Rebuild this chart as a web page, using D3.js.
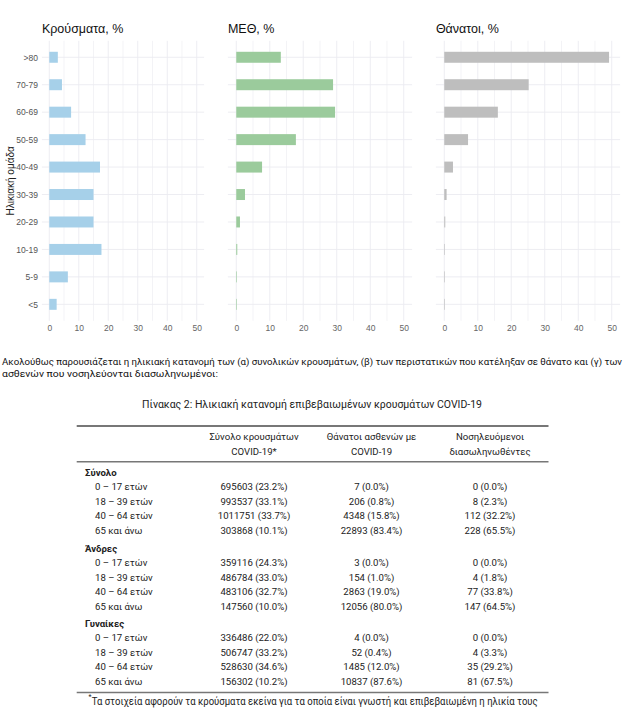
<!DOCTYPE html>
<html>
<head>
<meta charset="utf-8">
<script src="https://cdn.jsdelivr.net/npm/d3@7"></script>
<style>
  body { margin: 0; background: #fff; }
  svg { display: block; }
</style>
</head>
<body>
<script>
// chart data
const ageGroups = [">80", "70-79", "60-69", "50-59", "40-49", "30-39", "20-29", "10-19", "5-9", "<5"];
const casesPct = [2.9, 4.3, 7.4, 12.3, 17.2, 15.0, 15.0, 17.7, 6.3, 2.5];
const icuPct = [13.3, 28.9, 29.5, 17.8, 7.7, 2.6, 1.1, 0.3, 0.15, 0.15];
const deathsPct = [49.2, 25.2, 16.0, 7.1, 2.6, 0.7, 0.3, 0.15, 0.1, 0.1];
const xTicks = [0, 10, 20, 30, 40, 50];

// table data
const groupNames = ["Σύνολο", "Άνδρες", "Γυναίκες"];
const bandLabels = ["0 – 17 ετών", "18 – 39 ετών", "40 – 64 ετών", "65 και άνω"];
const tableCases = [
  [695603, 993537, 1011751, 303868],
  [359116, 486784, 483106, 147560],
  [336486, 506747, 528630, 156302]
];
const tableCasesPct = [
  ["23.2", "33.1", "33.7", "10.1"],
  ["24.3", "33.0", "32.7", "10.0"],
  ["22.0", "33.2", "34.6", "10.2"]
];
const tableDeaths = [
  [7, 206, 4348, 22893],
  [3, 154, 2863, 12056],
  [4, 52, 1485, 10837]
];
const tableDeathsPct = [
  ["0.0", "0.8", "15.8", "83.4"],
  ["0.0", "1.0", "19.0", "80.0"],
  ["0.0", "0.4", "12.0", "87.6"]
];
const tableIntub = [
  [0, 8, 112, 228],
  [0, 4, 77, 147],
  [0, 4, 35, 81]
];
const tableIntubPct = [
  ["0.0", "2.3", "32.2", "65.5"],
  ["0.0", "1.8", "33.8", "64.5"],
  ["0.0", "3.3", "29.2", "67.5"]
];
const headerLines = [
  ["Σύνολο κρουσμάτων", "COVID-19*"],
  ["Θάνατοι ασθενών με", "COVID-19"],
  ["Νοσηλευόμενοι", "διασωληνωθέντες"]
];
const introLines = [
  "Ακολούθως παρουσιάζεται η ηλικιακή κατανομή των (α) συνολικών κρουσμάτων, (β) των περιστατικών που κατέληξαν σε θάνατο και (γ) των",
  "ασθενών που νοσηλεύονται διασωληνωμένοι:"
];
const tableTitle = "Πίνακας 2: Ηλικιακή κατανομή επιβεβαιωμένων κρουσμάτων COVID-19";
const footnote = "Τα στοιχεία αφορούν τα κρούσματα εκείνα για τα οποία είναι γνωστή και επιβεβαιωμένη η ηλικία τους";

const width = 640, height = 712;
const chartFont = "'Liberation Sans', Arial, sans-serif";
const tableFont = "Roboto, 'Open Sans', sans-serif";

const svg = d3.select("body").append("svg")
  .attr("width", width)
  .attr("height", height);

svg.append("rect").attr("width", width).attr("height", height).attr("fill", "#fff");

/**
 * Top: three small bar panels
 */
const panels = [
  { title: "Κρούσματα, %", values: casesPct, color: "#a6d0e9", left: 41.9, right: 204.1, yAxis: true },
  { title: "ΜΕΘ, %", values: icuPct, color: "#9bcb9c", left: 227.9, right: 412.1, yAxis: false },
  { title: "Θάνατοι, %", values: deathsPct, color: "#bebebe", left: 435.9, right: 620.1, yAxis: false }
];

const plotTop = 40.8, plotBottom = 320.8;
const y = d3.scalePoint().domain(ageGroups).range([plotTop, plotBottom]).padding(0.6);
const barH = y.step() * 0.4;

panels.forEach(p => {
  const x = d3.scaleLinear().domain([-2.5, 52.5]).range([p.left, p.right]);
  const g = svg.append("g");

  // grid
  g.selectAll("line.vgrid")
    .data(d3.range(0, 51, 5))
    .enter().append("line")
    .attr("x1", d => x(d)).attr("x2", d => x(d))
    .attr("y1", plotTop).attr("y2", plotBottom)
    .attr("stroke", "#ebebf0")
    .attr("stroke-width", d => d % 10 === 0 ? 0.9 : 0.6);

  g.selectAll("line.hgrid")
    .data(ageGroups)
    .enter().append("line")
    .attr("x1", p.left).attr("x2", p.right)
    .attr("y1", d => y(d)).attr("y2", d => y(d))
    .attr("stroke", "#ebebf0")
    .attr("stroke-width", 0.9);

  // bars
  g.selectAll("rect.bar")
    .data(ageGroups.map((a, i) => ({ age: a, v: p.values[i] })))
    .enter().append("rect")
    .attr("x", x(0))
    .attr("y", d => y(d.age) - barH / 2)
    .attr("width", d => Math.max(0.6, x(d.v) - x(0)))
    .attr("height", barH)
    .attr("fill", p.color);

  // x axis
  const xa = g.append("g")
    .attr("transform", `translate(0,${plotBottom})`)
    .call(d3.axisBottom(x).tickValues(xTicks).tickSize(0).tickPadding(4));
  xa.select(".domain").remove();
  xa.selectAll("text")
    .attr("fill", "#666")
    .style("font-family", chartFont)
    .style("font-size", "8.5px");

  if (p.yAxis) {
    const ya = g.append("g")
      .attr("transform", `translate(${p.left},0)`)
      .call(d3.axisLeft(y).tickSize(0).tickPadding(4));
    ya.select(".domain").remove();
    ya.selectAll("text")
      .attr("fill", "#555")
      .style("font-family", chartFont)
      .style("font-size", "8.5px");
  }

  g.append("text")
    .attr("x", p.left)
    .attr("y", 33)
    .attr("fill", "#111")
    .style("font-family", chartFont)
    .style("font-size", "12.5px")
    .text(p.title);
});

svg.append("text")
  .attr("transform", `translate(10,${(plotTop + plotBottom) / 2}) rotate(-90)`)
  .attr("text-anchor", "middle")
  .attr("dy", "0.35em")
  .attr("fill", "#222")
  .style("font-family", chartFont)
  .style("font-size", "10px")
  .text("Ηλικιακή ομάδα");

/**
 * Paragraph and table title
 */
svg.selectAll("text.intro")
  .data(introLines)
  .enter().append("text")
  .attr("class", "intro")
  .attr("x", 2)
  .attr("y", (d, i) => 365 + i * 11.8)
  .attr("fill", "#111")
  .attr("textLength", (d, i) => i === 0 ? 620 : 216)
  .attr("lengthAdjust", "spacingAndGlyphs")
  .style("font-family", tableFont)
  .style("font-size", "9.5px")
  .text(d => d);

svg.append("text")
  .attr("x", 312)
  .attr("y", 408)
  .attr("text-anchor", "middle")
  .attr("textLength", 340)
  .attr("lengthAdjust", "spacingAndGlyphs")
  .attr("fill", "#222")
  .style("font-family", tableFont)
  .style("font-size", "11px")
  .text(tableTitle);

/**
 * Table
 */
const tLeft = 76.7, tRight = 548.5;
const colX = [254, 371.5, 490];
const groupX = 85, labelX = 95;

svg.append("line").attr("x1", tLeft).attr("x2", tRight).attr("y1", 426).attr("y2", 426)
  .attr("stroke", "#777").attr("stroke-width", 1.8);
svg.append("line").attr("x1", tLeft).attr("x2", tRight).attr("y1", 461.7).attr("y2", 461.7)
  .attr("stroke", "#777").attr("stroke-width", 1.4);
svg.append("line").attr("x1", tLeft).attr("x2", tRight).attr("y1", 692.5).attr("y2", 692.5)
  .attr("stroke", "#777").attr("stroke-width", 1.4);

headerLines.forEach((lines, c) => {
  lines.forEach((t, j) => {
    svg.append("text")
      .attr("x", colX[c])
      .attr("y", 437 + j * 14.5)
      .attr("dy", "0.35em")
      .attr("text-anchor", "middle")
      .attr("fill", "#222")
      .style("font-family", tableFont)
      .style("font-size", "9.6px")
      .text(t);
  });
});

const groupY = [472.3, 548.2, 623.5];
const rowStep = 14.5;
const cellStyle = sel => sel
  .attr("dy", "0.35em")
  .attr("fill", "#222")
  .style("font-family", tableFont)
  .style("font-size", "9.6px");

groupNames.forEach((gName, gi) => {
  svg.append("text")
    .attr("x", groupX)
    .attr("y", groupY[gi])
    .call(cellStyle)
    .style("font-weight", "bold")
    .text(gName);

  bandLabels.forEach((lbl, r) => {
    const yy = groupY[gi] + 14.5 + r * rowStep;
    svg.append("text").attr("x", labelX).attr("y", yy).call(cellStyle).text(lbl);
    const cells = [
      `${tableCases[gi][r]} (${tableCasesPct[gi][r]}%)`,
      `${tableDeaths[gi][r]} (${tableDeathsPct[gi][r]}%)`,
      `${tableIntub[gi][r]} (${tableIntubPct[gi][r]}%)`
    ];
    cells.forEach((c, ci) => {
      svg.append("text")
        .attr("x", colX[ci])
        .attr("y", yy)
        .attr("text-anchor", "middle")
        .call(cellStyle)
        .text(c);
    });
  });
});

// footnote
svg.append("text")
  .attr("x", 88.5)
  .attr("y", 699)
  .attr("fill", "#222")
  .style("font-family", tableFont)
  .style("font-size", "7px")
  .text("*");
svg.append("text")
  .attr("x", 91.7)
  .attr("y", 705)
  .attr("textLength", 446)
  .attr("lengthAdjust", "spacingAndGlyphs")
  .attr("fill", "#222")
  .style("font-family", tableFont)
  .style("font-size", "10px")
  .text(footnote);
</script>
</body>
</html>
